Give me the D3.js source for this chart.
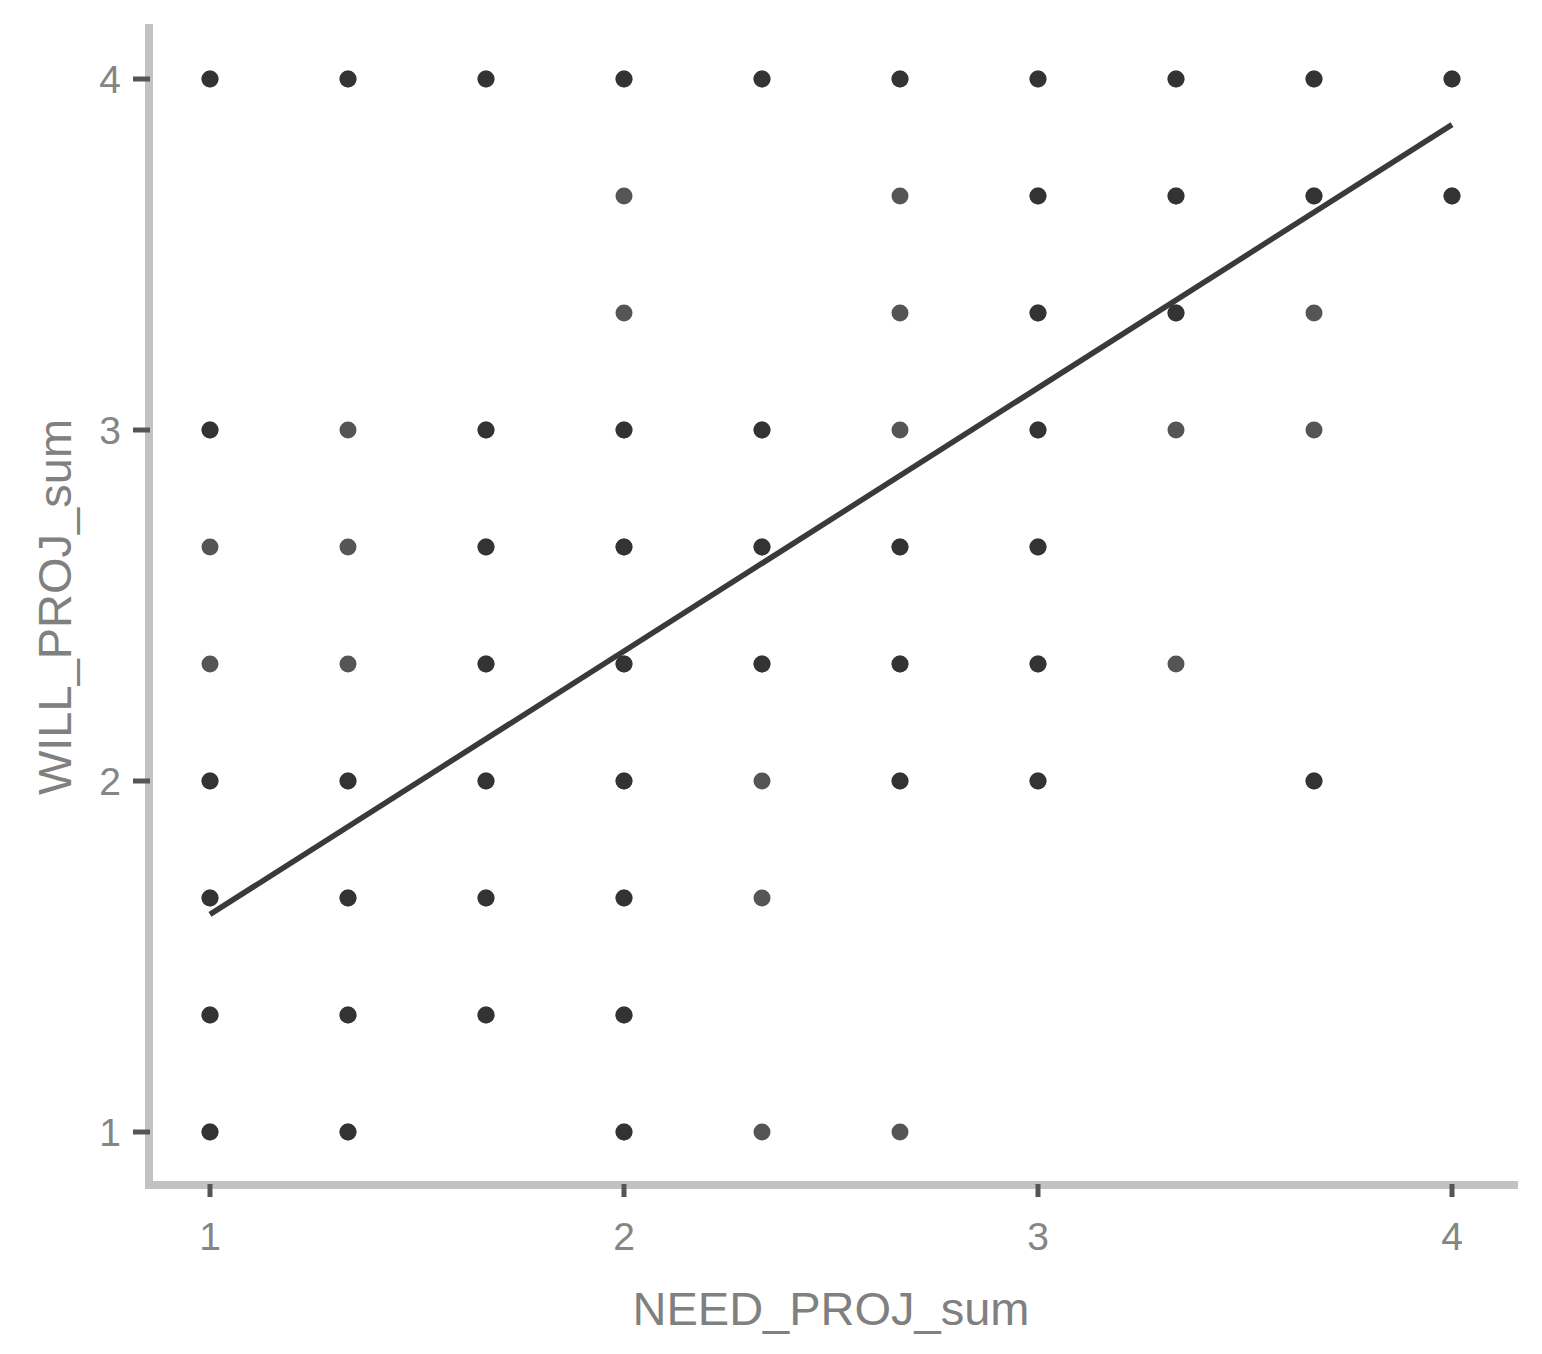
<!DOCTYPE html>
<html>
<head>
<meta charset="utf-8">
<script src="https://cdn.jsdelivr.net/npm/d3@7"></script>
<style>
  body { margin: 0; background: #fff; }
  svg { display: block; font-family: "Liberation Sans", Arial, sans-serif; }
</style>
</head>
<body>
<div class="chart"></div>
<script>
const width = 1542
const height = 1354

// axis ticks
const xTicks = [1, 2, 3, 4]
const yTicks = [1, 2, 3, 4]

// points: [NEED_PROJ_sum, WILL_PROJ_sum, number of overlapping cases]
const t = 1 / 3
const row4 = [[1, 4, 2], [1 + t, 4, 2], [1 + 2 * t, 4, 2], [2, 4, 2], [2 + t, 4, 2], [2 + 2 * t, 4, 2], [3, 4, 2], [3 + t, 4, 2], [3 + 2 * t, 4, 2], [4, 4, 2]]
const row3b = [[2, 3 + 2 * t, 1], [2 + 2 * t, 3 + 2 * t, 1], [3, 3 + 2 * t, 2], [3 + t, 3 + 2 * t, 2], [3 + 2 * t, 3 + 2 * t, 2], [4, 3 + 2 * t, 2]]
const row3a = [[2, 3 + t, 1], [2 + 2 * t, 3 + t, 1], [3, 3 + t, 2], [3 + t, 3 + t, 2], [3 + 2 * t, 3 + t, 1]]
const row3 = [[1, 3, 2], [1 + t, 3, 1], [1 + 2 * t, 3, 2], [2, 3, 2], [2 + t, 3, 2], [2 + 2 * t, 3, 1], [3, 3, 2], [3 + t, 3, 1], [3 + 2 * t, 3, 1]]
const row2b = [[1, 2 + 2 * t, 1], [1 + t, 2 + 2 * t, 1], [1 + 2 * t, 2 + 2 * t, 2], [2, 2 + 2 * t, 2], [2 + t, 2 + 2 * t, 2], [2 + 2 * t, 2 + 2 * t, 2], [3, 2 + 2 * t, 2]]
const row2a = [[1, 2 + t, 1], [1 + t, 2 + t, 1], [1 + 2 * t, 2 + t, 2], [2, 2 + t, 2], [2 + t, 2 + t, 2], [2 + 2 * t, 2 + t, 2], [3, 2 + t, 2], [3 + t, 2 + t, 1]]
const row2 = [[1, 2, 2], [1 + t, 2, 2], [1 + 2 * t, 2, 2], [2, 2, 2], [2 + t, 2, 1], [2 + 2 * t, 2, 2], [3, 2, 2], [3 + 2 * t, 2, 2]]
const row1b = [[1, 1 + 2 * t, 2], [1 + t, 1 + 2 * t, 2], [1 + 2 * t, 1 + 2 * t, 2], [2, 1 + 2 * t, 2], [2 + t, 1 + 2 * t, 1]]
const row1a = [[1, 1 + t, 2], [1 + t, 1 + t, 2], [1 + 2 * t, 1 + t, 2], [2, 1 + t, 2]]
const row1 = [[1, 1, 2], [1 + t, 1, 2], [2, 1, 2], [2 + t, 1, 1], [2 + 2 * t, 1, 1]]

// fitted line endpoints
const fitX = [1, 4]
const fitY = [1.62, 3.87]

const points = [].concat(row4, row3b, row3a, row3, row2b, row2a, row2, row1b, row1a, row1)

// one circle per case so that overlap darkens the dot
const cases = []
points.forEach(p => {
    for (let i = 0; i < p[2]; i++) cases.push({ x: p[0], y: p[1] })
})

const x = d3.scaleLinear().domain([1, 4]).range([210, 1452])
const y = d3.scaleLinear().domain([1, 4]).range([1132, 79])

const svg = d3.select(".chart")
    .append("svg")
    .attr("width", width)
    .attr("height", height)

// axis lines
svg.append("line")
    .attr("x1", 149).attr("x2", 149)
    .attr("y1", 24).attr("y2", 1189)
    .attr("stroke", "#c2c2c2")
    .attr("stroke-width", 8)

svg.append("line")
    .attr("x1", 145).attr("x2", 1518)
    .attr("y1", 1185).attr("y2", 1185)
    .attr("stroke", "#c2c2c2")
    .attr("stroke-width", 8)

// x ticks + labels
const xAxis = svg.append("g")
xAxis.selectAll("line")
    .data(xTicks)
    .join("line")
    .attr("x1", d => x(d)).attr("x2", d => x(d))
    .attr("y1", 1184).attr("y2", 1197)
    .attr("stroke", "#555")
    .attr("stroke-width", 5)
xAxis.selectAll("text")
    .data(xTicks)
    .join("text")
    .attr("x", d => x(d))
    .attr("y", 1250)
    .attr("text-anchor", "middle")
    .attr("font-size", 39)
    .attr("fill", "#858585")
    .text(d => d)

// y ticks + labels
const yAxis = svg.append("g")
yAxis.selectAll("line")
    .data(yTicks)
    .join("line")
    .attr("x1", 133).attr("x2", 150)
    .attr("y1", d => y(d)).attr("y2", d => y(d))
    .attr("stroke", "#555")
    .attr("stroke-width", 5)
yAxis.selectAll("text")
    .data(yTicks)
    .join("text")
    .attr("x", 121)
    .attr("y", d => y(d) + 14)
    .attr("text-anchor", "end")
    .attr("font-size", 39)
    .attr("fill", "#858585")
    .text(d => d)

// axis titles
svg.append("text")
    .attr("x", 831)
    .attr("y", 1325)
    .attr("text-anchor", "middle")
    .attr("font-size", 47)
    .attr("fill", "#808080")
    .text("NEED_PROJ_sum")

svg.append("text")
    .attr("transform", `translate(${71}, ${607}) rotate(-90)`)
    .attr("text-anchor", "middle")
    .attr("font-size", 47)
    .attr("fill", "#808080")
    .text("WILL_PROJ_sum")

// points
svg.append("g")
    .selectAll("circle")
    .data(cases)
    .join("circle")
    .attr("cx", d => x(d.x))
    .attr("cy", d => y(d.y))
    .attr("r", 8.5)
    .attr("fill", "#2a2a2a")
    .attr("fill-opacity", 0.8)

// fitted line
const fit = fitX.map((v, i) => ({ x: v, y: fitY[i] }))
svg.append("path")
    .datum(fit)
    .attr("fill", "none")
    .attr("stroke", "#3a3a3a")
    .attr("stroke-width", 5.5)
    .attr("d", d3.line().x(d => x(d.x)).y(d => y(d.y)))
</script>
</body>
</html>
